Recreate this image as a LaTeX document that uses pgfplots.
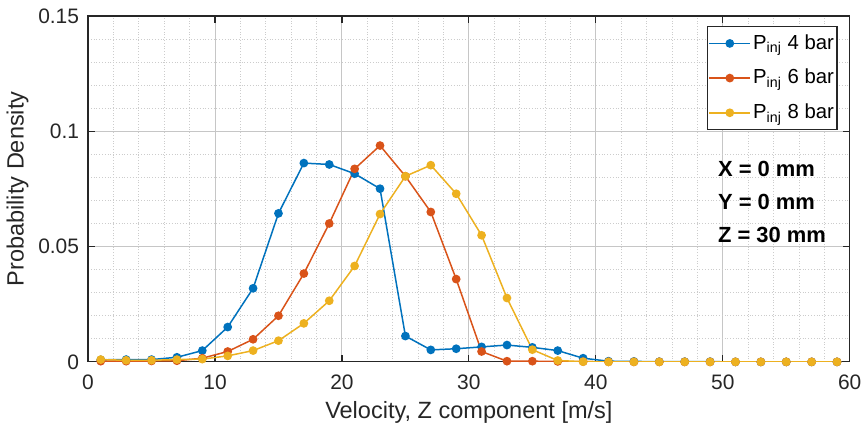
\documentclass[border=0pt]{standalone}
\usepackage{pgfplots}
\pgfplotsset{compat=1.18}
\usepackage{fontspec}
\setmainfont{Liberation Sans}

\definecolor{mblue}{RGB}{0,114,189}
\definecolor{mred}{RGB}{217,83,25}
\definecolor{myellow}{RGB}{237,177,32}
\definecolor{axgray}{gray}{0.15}

\begin{document}
\begin{tikzpicture}
  \begin{axis}[
    scale only axis,
    width=382pt, height=173.5pt,
    xmin=0, xmax=60, ymin=0, ymax=0.15,
    xtick={0,10,...,60},
    ytick={0,0.05,0.1,0.15},
    yticklabels={0,0.05,0.1,0.15},
    minor x tick num=4,
    minor y tick num=4,
    grid=both,
    major grid style={gray!45, line width=0.5pt},
    minor grid style={gray!40, densely dotted, line width=0.4pt},
    axis line style={axgray, line width=0.6pt},
    tick style={axgray, line width=0.6pt},
    tick align=inside,
    major tick length=3.5pt,
    minor tick length=0pt,
    ticklabel style={font=\fontsize{10.5}{12}\selectfont, text=axgray},
    /pgf/number format/assume math mode=true,
    xticklabel style={yshift=-3pt},
    yticklabel style={xshift=-1pt},
    label style={font=\fontsize{11.8}{14}\selectfont, text=axgray},
    xlabel={Velocity, Z component [m/s]},
    ylabel={Probability Density},
    xlabel style={yshift=1pt},
    ylabel style={yshift=-2pt},
    every axis plot/.append style={line width=0.75pt, mark=*, mark size=1.8pt},
    legend style={at={(rel axis cs:0.984,0.971)}, anchor=north east,
      font=\fontsize{10.2}{12}\selectfont, draw=axgray, line width=0.6pt,
      row sep=4.5pt, inner xsep=0.5pt, inner ysep=2pt,
      nodes={inner xsep=1pt}},
    legend cell align=left,
    legend image code/.code={%
      \draw[#1, mark=none, line width=0.9pt] (0cm,0cm) -- (0.72cm,0cm);
      \draw[#1, only marks] plot coordinates {(0.36cm,0cm)};},
  ]
    \addplot[color=mblue, mark options={fill=mblue}] coordinates {
      (1,0.0009) (3,0.0010) (5,0.0010) (7,0.0020) (9,0.0049)
      (11,0.0151) (13,0.0319) (15,0.0644) (17,0.0862) (19,0.0856)
      (21,0.0816) (23,0.0751) (25,0.0112) (27,0.0052) (29,0.0057)
      (31,0.0065) (33,0.0073) (35,0.0063) (37,0.0049) (39,0.0016)
      (41,0.0003) (43,0.0002) (45,0.0001) (47,0.0001) (49,0.0001)
      (51,0) (53,0) (55,0) (57,0) (59,0)
    };
    \addlegendentry{P\textsubscript{inj} 4 bar}
    \addplot[color=mred, mark options={fill=mred}] coordinates {
      (1,0.0003) (3,0.0003) (5,0.0004) (7,0.0005) (9,0.0016)
      (11,0.0045) (13,0.0098) (15,0.0200) (17,0.0383) (19,0.0600)
      (21,0.0837) (23,0.0938) (25,0.0805) (27,0.0650) (29,0.0359)
      (31,0.0045) (33,0.0003) (35,0.0003) (37,0.0002) (39,0.0001)
      (41,0) (43,0) (45,0) (47,0) (49,0)
      (51,0) (53,0) (55,0) (57,0) (59,0)
    };
    \addlegendentry{P\textsubscript{inj} 6 bar}
    \addplot[color=myellow, mark options={fill=myellow}] coordinates {
      (1,0.0010) (3,0.0007) (5,0.0007) (7,0.0010) (9,0.0012)
      (11,0.0026) (13,0.0049) (15,0.0092) (17,0.0167) (19,0.0265)
      (21,0.0416) (23,0.0641) (25,0.0805) (27,0.0853) (29,0.0729)
      (31,0.0549) (33,0.0277) (35,0.0053) (37,0.0006) (39,0.0001)
      (41,0) (43,0) (45,0) (47,0) (49,0)
      (51,0) (53,0) (55,0) (57,0) (59,0)
    };
    \addlegendentry{P\textsubscript{inj} 8 bar}
    \node[anchor=west, align=left, inner sep=0pt,
      font=\fontsize{11}{16.5}\selectfont\bfseries, text=black]
      at (axis cs:49.6,0.0692) {X = 0 mm\\Y = 0 mm\\Z = 30 mm};
  \end{axis}
  \path ([xshift=-44pt,yshift=-34pt]current axis.south west)
    rectangle ([xshift=8pt,yshift=8pt]current axis.north east);
\end{tikzpicture}
\end{document}
